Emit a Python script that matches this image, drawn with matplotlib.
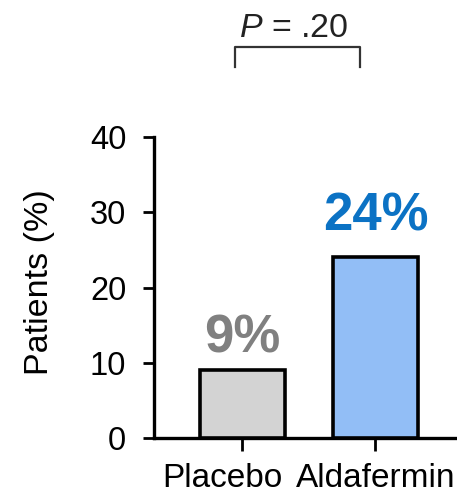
import matplotlib
matplotlib.use("Agg")
import matplotlib.pyplot as plt
import matplotlib.transforms as mtransforms

categories = ["Placebo", "Aldafermin"]
values = [9, 24]
value_labels = ["9%", "24%"]
bar_colors = ["#D3D3D3", "#92BEF6"]
label_colors = ["#808080", "#0B72C4"]
yticks = [0, 10, 20, 30, 40]
p_text = "$\\mathit{P}$ = .20"

plt.rcParams['font.family'] = ['Liberation Sans', 'DejaVu Sans']
plt.rcParams['mathtext.fontset'] = 'custom'
plt.rcParams['mathtext.it'] = 'Liberation Sans:italic'
plt.rcParams['mathtext.rm'] = 'Liberation Sans'

fig = plt.figure(figsize=(4.57, 4.95), dpi=100)
ax = fig.add_axes([154/457, 1-438/495, 1-154/457 + 0.01, (438-137)/495])
x = list(range(len(categories)))
ax.bar(x, values, width=0.64, color=bar_colors, edgecolor="black", linewidth=2.6, zorder=3)
ax.set_xlim(-0.662, 1.617 + 0.03)
ax.set_ylim(0, 40)
ax.set_yticks(yticks)
ax.set_xticks(x)
ax.set_xticklabels(categories, fontsize=24)
ax.tick_params(axis='y', labelsize=23.5, length=8, width=2, direction='out', pad=12)
ax.tick_params(axis='x', length=9, width=2, direction='out', pad=9)
for s in ["top", "right"]:
    ax.spines[s].set_visible(False)
for s in ["left", "bottom"]:
    ax.spines[s].set_linewidth(2.4)

# nudge first category label left as in the reference
lbls = ax.get_xticklabels()
lbls[0].set_transform(lbls[0].get_transform() + mtransforms.ScaledTranslation(-20/100, 0, fig.dpi_scale_trans))

ax.set_ylabel("Patients (%)", fontsize=24.5)
ax.yaxis.set_label_coords(40/457, 1-282/495, transform=fig.transFigure)
ax.yaxis.label.set_va("center")

offsets = [2.3, 3.6]
for xi, v, lab, c, off in zip(x, values, value_labels, label_colors, offsets):
    ax.text(xi, v + off, lab, ha="center", va="baseline", fontsize=38, fontweight="bold", color=c)

# significance bracket
y_top, y_bot = 51.96, 49.3
ax.plot([-0.055, -0.055, 0.885, 0.885], [y_bot, y_top, y_top, y_bot], color="#333333", lw=1.6, clip_on=False)
ax.text(0.39, 53.3, p_text, ha="center", va="baseline", fontsize=24.5, color="#222222")

fig.savefig("out.png", dpi=100)
